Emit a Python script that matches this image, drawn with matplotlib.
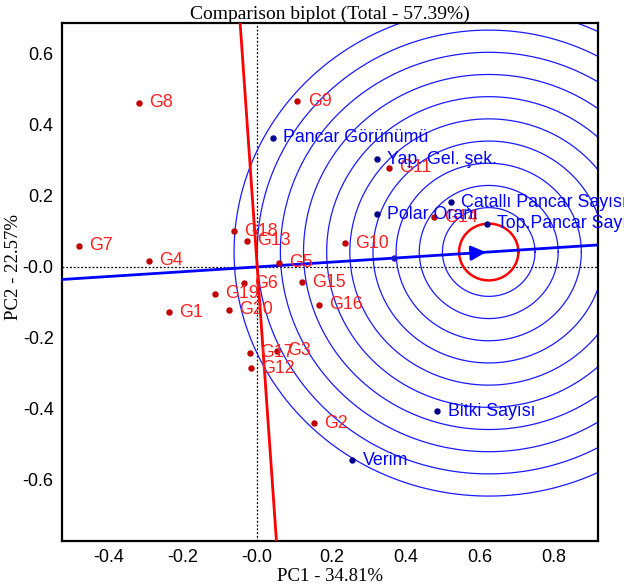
import numpy as np
import matplotlib
matplotlib.use("Agg")
import matplotlib.pyplot as plt

# genotype scores
genotypes = ["G1", "G2", "G3", "G4", "G5", "G6", "G7", "G8", "G9", "G10",
             "G11", "G12", "G13", "G14", "G15", "G16", "G17", "G18", "G19", "G20"]
g_pc1 = [-0.239, 0.153, 0.053, -0.293, 0.059, -0.037, -0.481, -0.320, 0.108, 0.237,
         0.355, -0.017, -0.028, 0.476, 0.121, 0.167, -0.019, -0.064, -0.115, -0.076]
g_pc2 = [-0.128, -0.440, -0.236, 0.018, 0.012, -0.046, 0.059, 0.463, 0.467, 0.067,
         0.280, -0.286, 0.074, 0.140, -0.043, -0.107, -0.242, 0.100, -0.076, -0.121]

# trait / environment scores
traits = ["Pancar Görünümü", "Yap. Gel. şek.", "Polar Oranı", "Çatallı Pancar Sayısı",
          "Top.Pancar Sayısı", "Bitki Sayısı", "Verim"]
t_pc1 = [0.042, 0.323, 0.323, 0.523, 0.620, 0.486, 0.257]
t_pc2 = [0.364, 0.303, 0.148, 0.182, 0.121, -0.406, -0.544]

# average environment marker and ideal genotype
avg_env = (0.370, 0.025)
ideal = (0.625, 0.042)
ideal_radius = 0.080
ring_step = 0.0625
ring_index = list(range(2, 12))

xticks = [-0.4, -0.2, 0.0, 0.2, 0.4, 0.6, 0.8]
xtick_labels = ["-0.4", "-0.2", "-0.0", "0.2", "0.4", "0.6", "0.8"]
yticks = [-0.6, -0.4, -0.2, 0.0, 0.2, 0.4, 0.6]
ytick_labels = ["-0.6", "-0.4", "-0.2", "-0.0", "0.2", "0.4", "0.6"]

XLIM = (-0.527, 0.920)
YLIM = (-0.772, 0.687)


def draw_circle(ax, cx, cy, r, color, lw):
    t = np.linspace(0, 2 * np.pi, 400)
    ax.plot(cx + r * np.cos(t), cy + r * np.sin(t), color=color, lw=lw, zorder=2)


def label_points(ax, names, xs, ys, dot_color, text_color):
    ax.plot(xs, ys, "o", color=dot_color, ms=3.6, zorder=5)
    for name, x, y in zip(names, xs, ys):
        # labels run past the frame, only the image edge cuts them
        ax.annotate(name, (x, y), xytext=(7.5, 0), textcoords="offset points",
                    va="center", ha="left", color=text_color, fontsize=12.8,
                    family="Liberation Sans", zorder=6, annotation_clip=False,
                    clip_on=False)


fig = plt.figure(figsize=(6.24, 5.85), dpi=100)
ax = fig.add_axes([62 / 624, 1 - 541 / 585, 536 / 624, 518 / 585])
ax.set_xlim(*XLIM)
ax.set_ylim(*YLIM)

# zero reference lines
ax.axhline(0, color="black", lw=0.9, ls=(0, (1.5, 1.5)), zorder=1)
ax.axvline(0, color="black", lw=0.9, ls=(0, (1.5, 1.5)), zorder=1)

# concentric rings around the ideal genotype
for k in ring_index:
    draw_circle(ax, ideal[0], ideal[1], k * ring_step, "#1a1aff", 0.9)
draw_circle(ax, ideal[0], ideal[1], ideal_radius, "#ff0000", 1.8)

# average environment axis and its perpendicular
dx, dy = ideal
xs = np.array([XLIM[0], XLIM[1]])
ax.plot(xs, xs * dy / dx, color="#0000ff", lw=2, zorder=3)
ys = np.array([YLIM[0], YLIM[1]])
ax.plot(-ys * dy / dx, ys, color="#ff0000", lw=2, zorder=3)
ax.annotate("", xy=ideal, xytext=(ideal[0] - 0.06, ideal[1] - 0.06 * dy / dx),
            arrowprops=dict(arrowstyle="-|>", color="#0000ff", lw=2,
                            mutation_scale=22), zorder=4)
ax.plot([avg_env[0]], [avg_env[1]], "o", color="#1a1ad0", ms=3.6, zorder=5)

label_points(ax, genotypes, g_pc1, g_pc2, "#c00000", "#ff2020")
label_points(ax, traits, t_pc1, t_pc2, "#00008b", "#0000ff")

ax.set_xticks(xticks)
ax.set_xticklabels(xtick_labels)
ax.set_yticks(yticks)
ax.set_yticklabels(ytick_labels)
ax.tick_params(length=0, pad=6, labelsize=13)
for lab in ax.get_xticklabels() + ax.get_yticklabels():
    lab.set_family("Liberation Sans")
for sp in ax.spines.values():
    sp.set_linewidth(1.6)

ax.set_title("Comparison biplot (Total - 57.39%)", family="Liberation Serif",
             fontsize=14, pad=3)
ax.set_xlabel("PC1 - 34.81%", family="Liberation Serif", fontsize=13.5, labelpad=1)
ax.set_ylabel("PC2 - 22.57%", family="Liberation Serif", fontsize=13.5)
ax.yaxis.set_label_coords(-0.075, 0.529)

fig.savefig("out.png", dpi=100)
